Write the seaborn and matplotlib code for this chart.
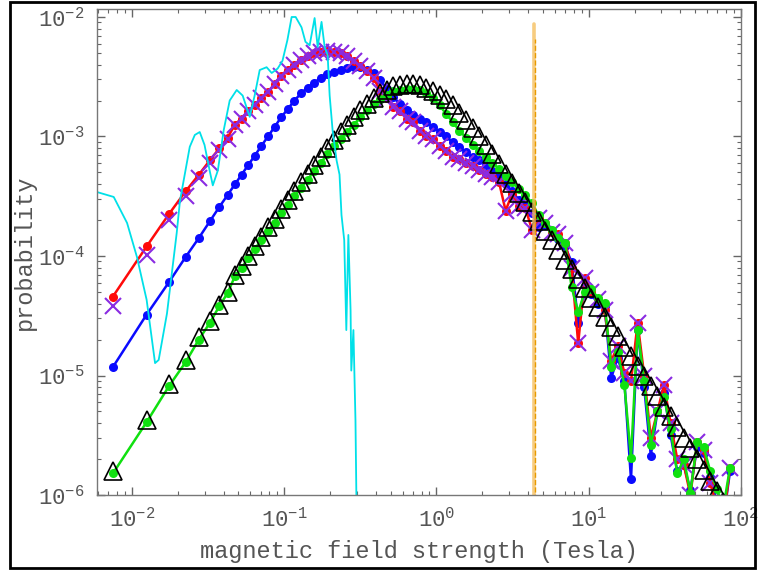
import numpy as np
import pandas as pd
import seaborn as sns
import matplotlib.pyplot as plt
from matplotlib.patches import Rectangle

# field strength bins (Tesla), shared by all histogram series
field = [0.0075, 0.0125, 0.0175, 0.0225, 0.0275, 0.0325, 0.0375, 0.0425,
         0.0475, 0.0525, 0.0580, 0.0641, 0.0708, 0.0782, 0.0865, 0.0955, 0.1056, 0.1166,
         0.1289, 0.1424, 0.1574, 0.1739, 0.1921, 0.2123, 0.2346, 0.2593, 0.2864, 0.3165,
         0.3498, 0.3865, 0.4271, 0.4719, 0.5214, 0.5762, 0.6367, 0.7035, 0.7774, 0.8590,
         0.9489, 1.048, 1.158, 1.280, 1.414, 1.563, 1.727, 1.908, 2.109, 2.330,
         2.575, 2.845, 3.144, 3.474, 3.838, 4.242, 4.687, 5.179, 5.723, 6.324,
         6.987, 7.722, 8.530, 9.426, 10.41, 11.51, 12.72, 14.05, 15.52, 17.15,
         18.95, 20.95, 23.14, 25.57, 28.26, 31.23, 34.51, 38.13, 42.13, 46.56,
         51.44, 56.84, 62.81, 69.40, 76.69, 84.73]

# log10(probability)
log_red = [-4.34, -3.92, -3.65, -3.46, -3.32, -3.20, -3.10, -3.01,
           -2.90, -2.85, -2.79, -2.74, -2.68, -2.63, -2.56, -2.49, -2.44, -2.40,
           -2.36, -2.33, -2.30, -2.29, -2.285, -2.29, -2.30, -2.33, -2.37, -2.41,
           -2.45, -2.51, -2.62, -2.68, -2.75, -2.79, -2.85, -2.88, -2.95, -3.00,
           -3.02, -3.08, -3.12, -3.17, -3.19, -3.22, -3.25, -3.28, -3.31, -3.34,
           -3.38, -3.62, -3.48, -3.58, -3.60, -3.78, -3.68, -3.72, -3.80, -3.82,
           -3.89, -4.10, -4.73, -4.18, -4.30, -4.36, -4.45, -4.88, -4.75, -4.98,
           -5.05, -4.56, -5.00, -5.52, -5.30, -5.08, -5.40, -5.70, -5.75, -6.00,
           -5.56, -5.62, -5.90, -6.10, -6.20, -5.77]
log_purple = [-4.42, -3.99, -3.70, -3.50, -3.35, -3.22, -3.11, -3.02,
              -2.90, -2.85, -2.79, -2.74, -2.68, -2.63, -2.56, -2.49, -2.44, -2.40,
              -2.36, -2.33, -2.30, -2.29, -2.285, -2.29, -2.30, -2.33, -2.37, -2.41,
              -2.45, -2.51, -2.62, -2.68, -2.75, -2.79, -2.85, -2.88, -2.95, -3.00,
              -3.02, -3.08, -3.12, -3.17, -3.19, -3.22, -3.25, -3.28, -3.31, -3.34,
              -3.38, -3.62, -3.48, -3.58, -3.60, -3.78, -3.68, -3.72, -3.80, -3.82,
              -3.89, -4.10, -4.73, -4.18, -4.30, -4.36, -4.45, -4.88, -4.75, -4.98,
              -5.05, -4.56, -5.00, -5.52, -5.30, -5.08, -5.40, -5.70, -5.75, -6.00,
              -5.56, -5.62, -5.90, -6.10, -6.20, -5.77]
log_blue = [-4.93, -4.49, -4.22, -4.01, -3.85, -3.71, -3.59, -3.49,
            -3.40, -3.32, -3.24, -3.16, -3.08, -3.00, -2.92, -2.84, -2.77, -2.70,
            -2.64, -2.59, -2.55, -2.51, -2.48, -2.46, -2.44, -2.43, -2.42, -2.42,
            -2.44, -2.47, -2.53, -2.60, -2.67, -2.73, -2.78, -2.82, -2.85, -2.88,
            -2.92, -2.96, -3.00, -3.05, -3.09, -3.13, -3.17, -3.20, -3.24, -3.29,
            -3.34, -3.40, -3.46, -3.53, -3.58, -3.64, -3.76, -3.74, -3.80, -3.86,
            -3.92, -4.05, -4.56, -4.25, -4.32, -4.40, -4.42, -5.02, -4.85, -5.05,
            -5.87, -4.62, -5.10, -5.67, -5.30, -5.15, -5.50, -5.80, -5.75, -5.96,
            -5.60, -5.65, -5.85, -6.05, -6.20, -5.80]
log_green = [-5.82, -5.39, -5.09, -4.89, -4.70, -4.56, -4.42, -4.31,
             -4.17, -4.10, -4.02, -3.94, -3.87, -3.79, -3.72, -3.64, -3.57, -3.50,
             -3.43, -3.36, -3.29, -3.22, -3.15, -3.08, -3.02, -2.96, -2.90, -2.84,
             -2.78, -2.73, -2.69, -2.65, -2.62, -2.61, -2.60, -2.60, -2.61, -2.64,
             -2.68, -2.74, -2.81, -2.88, -2.95, -3.01, -3.07, -3.12, -3.17, -3.22,
             -3.27, -3.33, -3.38, -3.44, -3.49, -3.56, -3.66, -3.72, -3.78, -3.85,
             -3.89, -4.26, -4.47, -4.30, -4.28, -4.35, -4.39, -4.93, -4.80, -5.08,
             -5.69, -4.62, -5.05, -5.58, -5.30, -5.18, -5.45, -5.82, -5.70, -5.98,
             -5.56, -5.60, -5.80, -5.95, -6.10, -5.77]
log_black = [-5.80, -5.37, -5.07, -4.87, -4.68, -4.54, -4.41, -4.30,
             -4.16, -4.08, -4.00, -3.92, -3.84, -3.76, -3.69, -3.61, -3.53, -3.46,
             -3.38, -3.31, -3.24, -3.17, -3.10, -3.03, -2.96, -2.90, -2.84, -2.78,
             -2.73, -2.68, -2.64, -2.61, -2.58, -2.565, -2.56, -2.56, -2.57, -2.59,
             -2.62, -2.65, -2.69, -2.74, -2.80, -2.86, -2.93, -3.00, -3.07, -3.15,
             -3.23, -3.31, -3.39, -3.47, -3.55, -3.63, -3.71, -3.79, -3.87, -3.95,
             -4.03, -4.11, -4.19, -4.27, -4.35, -4.43, -4.51, -4.59, -4.67, -4.76,
             -4.84, -4.92, -5.00, -5.09, -5.17, -5.26, -5.34, -5.43, -5.52, -5.61,
             -5.70, -5.79, -5.88, -5.97, -6.06, -6.15]

# thin oscillating curve
cyan_x = [0.0059, 0.0076, 0.0093, 0.0108, 0.0125, 0.0142, 0.0150, 0.0170, 0.0197, 0.0207,
          0.0240, 0.0259, 0.0279, 0.0300, 0.0324, 0.0340, 0.0367, 0.0401, 0.0439, 0.0488,
          0.0534, 0.0594, 0.0640, 0.0691, 0.0767, 0.0828, 0.0906, 0.0975, 0.105, 0.112,
          0.119, 0.130, 0.138, 0.147, 0.1585, 0.166, 0.176, 0.1845, 0.193, 0.199,
          0.208, 0.221, 0.231, 0.238, 0.248, 0.256, 0.264, 0.273, 0.276, 0.285,
          0.294, 0.298, 0.302]
cyan_y = [3.43e-4, 3.12e-4, 1.89e-4, 9.8e-5, 4.3e-5, 1.27e-5, 1.35e-5, 3.3e-5, 1.56e-4, 2.9e-4,
          8.2e-4, 1.03e-3, 1.09e-3, 8.5e-4, 5.2e-4, 3.9e-4, 5.2e-4, 1.13e-3, 2.0e-3, 2.45e-3,
          2.2e-3, 1.46e-3, 2.2e-3, 3.6e-3, 3.8e-3, 3.4e-3, 3.7e-3, 4.3e-3, 6.4e-3, 1.0e-2,
          1.0e-2, 8.2e-3, 6.2e-3, 5.8e-3, 9.8e-3, 5.6e-3, 9.1e-3, 5.6e-3, 4.8e-3, 2.2e-3,
          1.13e-3, 6.3e-4, 4.8e-4, 2.2e-4, 1.36e-4, 2.4e-5, 1.5e-4, 3.5e-5, 1.1e-5, 2.4e-5,
          4.2e-6, 1.0e-6, 6e-7]

# narrow orange spike
spike_x = [4.39, 4.39]
spike_y = [1e-7, 8.7e-3]
spike2_x = [4.47, 4.47]
spike2_y = [1e-7, 6.5e-3]

sns.set_style('ticks')
plt.rcParams['font.family'] = ['Liberation Mono', 'DejaVu Sans Mono']
plt.rcParams['mathtext.fontset'] = 'custom'
plt.rcParams['mathtext.rm'] = 'Liberation Mono'
plt.rcParams['mathtext.it'] = 'Liberation Mono'
plt.rcParams['mathtext.bf'] = 'Liberation Mono'

grey = '#555555'

fig = plt.figure(figsize=(7.6, 5.72), dpi=100)
ax = fig.add_axes([0.1276, 0.1346, 0.8474, 0.8497])


def hist_frame(logs):
    return pd.DataFrame({'B': field, 'p': 10.0 ** np.array(logs)})


common = dict(x='B', y='p', estimator=None, sort=False, ax=ax)

sns.lineplot(data=hist_frame(log_blue), color='#0a0aff', lw=1.8, marker='o', markersize=6.5,
             markeredgecolor='#0a0aff', markeredgewidth=0, **common)
sns.lineplot(data=hist_frame(log_red), color='#ff0a0a', lw=1.8, marker='o', markersize=6.5,
             markeredgecolor='#ff0a0a', markeredgewidth=0, **common)
sns.lineplot(data=hist_frame(log_purple), color='#8a2be2', lw=0, marker='x', markersize=12,
             markeredgecolor='#8a2be2', markeredgewidth=1.5, **common)
sns.lineplot(data=hist_frame(log_green), color='#10e010', lw=1.8, marker='o', markersize=6.5,
             markeredgecolor='#10e010', markeredgewidth=0, **common)
sns.lineplot(data=hist_frame(log_black), color='black', lw=0, marker='^', markersize=12.5,
             markerfacecolor='none', markeredgecolor='black', markeredgewidth=1.2, **common)

sns.lineplot(x=cyan_x, y=cyan_y, color='#00e0e8', lw=1.3, estimator=None, sort=False, ax=ax)
sns.lineplot(x=spike_x, y=spike_y, color='#f5c060', lw=2.6, alpha=0.8, estimator=None, sort=False, ax=ax)
sns.lineplot(x=spike2_x, y=spike2_y, color='#e89a00', lw=1.0, ls='--', estimator=None, sort=False, ax=ax)

ax.set_xscale('log')
ax.set_yscale('log')
ax.set_xlim(0.0059, 100)
ax.set_ylim(1e-6, 0.01167)

ax.tick_params(which='both', direction='in', top=True, right=True, color='#666666',
               labelcolor=grey, labelsize=16)
ax.tick_params(which='major', length=6, width=1, pad=9)
ax.tick_params(which='minor', length=3, width=0.8)
for s in ax.spines.values():
    s.set_color('#777777')
    s.set_linewidth(1.0)

ax.set_xlabel('magnetic field strength (Tesla)', fontsize=17, color=grey, labelpad=6)
ax.set_ylabel('probability', fontsize=17, color=grey, labelpad=1)

fig.patches.append(Rectangle((10 / 760, 4 / 572), 745 / 760, 566 / 572, transform=fig.transFigure,
                             fill=False, edgecolor='black', linewidth=2))

fig.savefig('out.png', dpi=100)
